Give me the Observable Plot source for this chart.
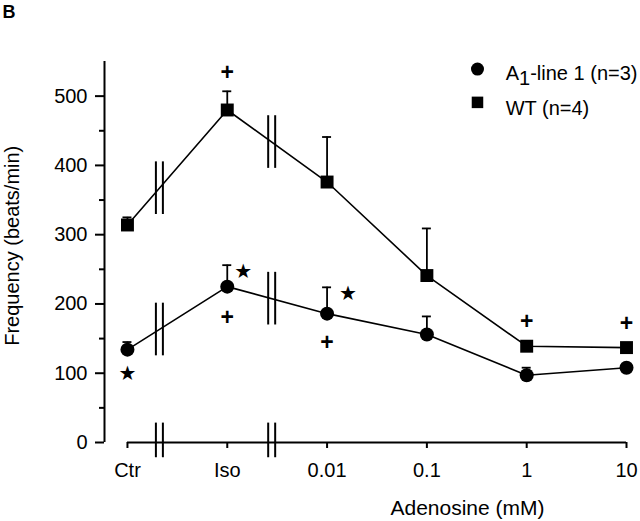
<!DOCTYPE html>
<html>
<head>
<meta charset="utf-8">
<script src="https://cdn.jsdelivr.net/npm/d3@7"></script>
<script src="https://cdn.jsdelivr.net/npm/@observablehq/plot@0.6"></script>
<style>
  html, body { margin: 0; padding: 0; background: #fff; }
  #chart { width: 640px; height: 521px; }
</style>
</head>
<body>
<div id="chart"></div>
<script>
// ---- data ----
const categories = ["Ctr", "Iso", "0.01", "0.1", "1", "10"];
const wtMean  = [314, 480, 376, 241, 139, 137];
const wtErr   = [11, 27, 65, 68, 0, 0];
const a1Mean  = [134, 225, 186, 156, 97, 108];
const a1Err   = [11, 31, 38, 26, 11, 0];
const yTicksMajor = [0, 100, 200, 300, 400, 500];
const yTicksMinor = [50, 150, 250, 350, 450];
const seriesNames = ["A1-line 1 (n=3)", "WT (n=4)"];
// significance markers: [series, category position, value, symbol]
const markSeries = ["WT", "WT", "WT", "A1", "A1", "A1", "A1", "A1"];
const markPos    = [1, 4, 5, 0, 1.16, 1, 2.21, 2];
const markValue  = [535, 176, 173, 100, 246, 182, 215, 146];
const markSymbol = ["+", "+", "+", "★", "★", "+", "★", "+"];
// axis breaks between Ctr|Iso and Iso|0.01
const breakPos = [0.32, 1.445];

// ---- build tables ----
const wt = categories.map((c, i) => ({i, v: wtMean[i], e: wtErr[i]}));
const a1 = categories.map((c, i) => ({i, v: a1Mean[i], e: a1Err[i]}));
const marks = markSymbol.map((s, k) => ({s, x: markPos[k], y: markValue[k], series: markSeries[k]}));

const xMin = -0.23;
const gap = 0.035;
function interp(arr, p) {
  const i0 = Math.floor(p), t = p - i0;
  return arr[i0] + (arr[i0 + 1] - arr[i0]) * t;
}
const lineBreaks = [];
for (const arr of [wtMean, a1Mean]) {
  for (const b of breakPos) {
    const c = interp(arr, b);
    for (const d of [-gap, gap]) lineBreaks.push({x: b + d, y1: c - 38, y2: c + 38});
  }
}
const axisBreaks = [];
for (const b of breakPos) for (const d of [-gap, gap]) axisBreaks.push({x: b + d, y1: -22, y2: 28});

const capW = 0.045;
const withErr = arr => arr.filter(d => d.e > 0);
const FS = 20;

const chart = Plot.plot({
  width: 640,
  height: 521,
  marginLeft: 104,
  marginRight: 14,
  marginTop: 61,
  marginBottom: 79,
  style: {fontFamily: "'Liberation Sans', Arial, sans-serif", fontSize: FS + "px", background: "#fff", color: "#000"},
  x: {type: "linear", domain: [xMin, 5], axis: null},
  y: {domain: [0, 550], axis: null},
  marks: [
    // y axis
    Plot.ruleX([xMin], {y1: 0, y2: 550, strokeWidth: 2}),
    Plot.axisY({ticks: yTicksMajor, tickSize: 9, tickPadding: 8, fontSize: FS, strokeWidth: 2, label: null}),
    Plot.axisY({ticks: yTicksMinor, tickSize: 5, tickFormat: () => "", strokeWidth: 2, label: null}),
    // x axis
    Plot.ruleY([0], {x1: 0, x2: 5, strokeWidth: 2}),
    Plot.axisX({ticks: d3.range(categories.length), tickFormat: i => categories[i], tickSize: 6, tickPadding: 14, fontSize: FS, strokeWidth: 2, label: null}),
    Plot.ruleX(axisBreaks, {x: "x", y1: "y1", y2: "y2", strokeWidth: 2}),
    // lines
    Plot.line(wt, {x: "i", y: "v", strokeWidth: 1.6}),
    Plot.line(a1, {x: "i", y: "v", strokeWidth: 1.6}),
    Plot.ruleX(lineBreaks, {x: "x", y1: "y1", y2: "y2", strokeWidth: 2}),
    // error bars
    Plot.ruleX(withErr(wt), {x: "i", y1: "v", y2: d => d.v + d.e, strokeWidth: 1.8}),
    Plot.ruleY(withErr(wt), {y: d => d.v + d.e, x1: d => d.i - capW, x2: d => d.i + capW, strokeWidth: 1.8}),
    Plot.ruleX(withErr(a1), {x: "i", y1: "v", y2: d => d.v + d.e, strokeWidth: 1.8}),
    Plot.ruleY(withErr(a1), {y: d => d.v + d.e, x1: d => d.i - capW, x2: d => d.i + capW, strokeWidth: 1.8}),
    // points
    Plot.dot(wt, {x: "i", y: "v", symbol: "square", r: 7.3, fill: "#000", stroke: null}),
    Plot.dot(a1, {x: "i", y: "v", symbol: "circle", r: 7, fill: "#000", stroke: null}),
    // significance markers
    Plot.text(marks.filter(d => d.s === "+"), {x: "x", y: "y", text: "s", fontSize: 23, fontWeight: "bold", lineAnchor: "middle", dy: 1}),
    Plot.text(marks.filter(d => d.s === "★"), {x: "x", y: "y", text: "s", fontSize: 20, fontFamily: "DejaVu Sans", lineAnchor: "middle"}),
    // legend
    Plot.dot([seriesNames[0]], {x: 3.507, y: 539, symbol: "circle", r: 6.5, fill: "#000", stroke: null}),
    Plot.dot([seriesNames[1]], {x: 3.507, y: 491, symbol: "square", r: 6.5, fill: "#000", stroke: null}),
    Plot.text([seriesNames[0]], {x: 3.79, y: 532, text: d => d, textAnchor: "start", lineAnchor: "middle", fontSize: FS}),
    Plot.text([seriesNames[1]], {x: 3.79, y: 482, text: d => d, textAnchor: "start", lineAnchor: "middle", fontSize: FS}),
    // axis titles and panel letter
    Plot.text(["Adenosine (mM)"], {x: 3.407, y: -95.3, text: d => d, lineAnchor: "middle", fontSize: 21}),
    Plot.text(["Frequency (beats/min)"], {x: -1.152, y: 284, text: d => d, rotate: -90, textAnchor: "middle", lineAnchor: "middle", fontSize: FS}),
    Plot.text(["B"], {x: -1.2525, y: 621.5, text: d => d, textAnchor: "start", lineAnchor: "middle", fontSize: 18, fontWeight: "bold"})
  ]
});

// subscript for A1
d3.select(chart).selectAll("text").each(function() {
  if (this.textContent === seriesNames[0]) {
    const t = d3.select(this);
    t.text("");
    t.append("tspan").text("A");
    t.append("tspan").attr("dy", 5).text("1");
    t.append("tspan").attr("dy", -5).text("-line 1 (n=3)");
  }
});

document.getElementById("chart").appendChild(chart);
</script>
</body>
</html>
